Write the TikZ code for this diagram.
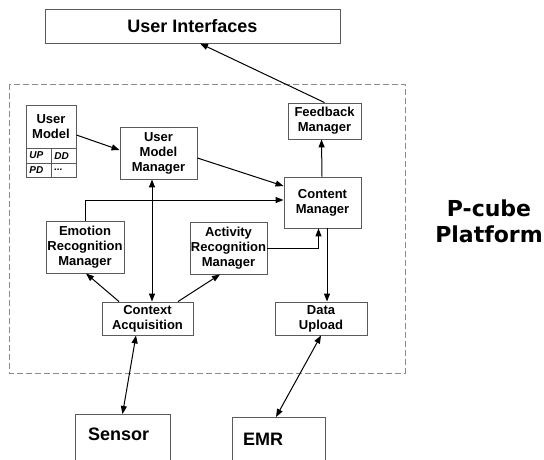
\documentclass[tikz,border=0pt]{standalone}
\usepackage{fontspec}
\setmainfont{Liberation Sans}
\newfontfamily\wide{DejaVu Sans}
\usetikzlibrary{arrows.meta}
\definecolor{boxgray}{HTML}{5A5A5A}
\definecolor{dashgray}{HTML}{8A8A8A}
\tikzset{
  box/.style={draw=boxgray, line width=0.9pt, align=center, inner sep=0pt,
    font=\fontsize{13}{15}\selectfont\bfseries},
  bigbox/.style={draw=boxgray, line width=0.9pt, inner ysep=0pt,
    font=\fontsize{18}{20}\selectfont\bfseries, align=left},
  cell/.style={draw=boxgray, line width=0.7pt, minimum width=25pt, minimum height=14.5pt,
    text width=19pt, inner xsep=3pt, inner ysep=0pt, align=left,
    font=\fontsize{10}{11}\selectfont\bfseries\itshape},
  arr/.style={-{Triangle[length=8pt,width=6pt]}, line width=1pt},
  darr/.style={{Triangle[length=8pt,width=6pt]}-{Triangle[length=8pt,width=6pt]}, line width=1pt},
  plain/.style={line width=1pt}
}
\begin{document}
\begin{tikzpicture}[x=1pt,y=-1pt]
\useasboundingbox (0,0) rectangle (544,459);
\clip (0,0) rectangle (544,459);
% platform frame
\draw[dashgray, line width=0.9pt, dash pattern=on 6pt off 3pt] (9,84) rectangle (405,373);
\node[font=\fontsize{22}{26}\selectfont\wide\bfseries, align=center] (pl) at (489,221) {P-cube\\Platform};
% nodes
\node[box, minimum width=295pt, minimum height=34pt, font=\fontsize{18}{20}\selectfont\bfseries] (ui) at (192.5,26) {User Interfaces};
\node[box, minimum width=73pt, minimum height=36pt] (fb) at (324.5,121) {Feedback\\Manager};
\node[box, minimum width=50pt, minimum height=43pt] (um) at (51,126.5) {User\\Model};
\node[cell, anchor=north west] (up) at (26,148) {UP};
\node[cell, anchor=north west] (dd) at (51,148) {DD};
\node[cell, anchor=north west] (pd) at (26,162.5) {PD};
\node[cell, anchor=north west] (dots) at (51,162.5) {...};
\node[box, minimum width=77pt, minimum height=52pt] (umm) at (158.5,153) {User\\Model\\Manager};
\node[box, minimum width=77pt, minimum height=51pt] (cm) at (322.5,202.5) {Content\\Manager};
\node[box, minimum width=78pt, minimum height=52pt] (erm) at (85,247) {Emotion\\Recognition\\Manager};
\node[box, minimum width=77pt, minimum height=52pt] (arm) at (228.5,248) {Activity\\Recognition\\Manager};
\node[box, minimum width=91pt, minimum height=33pt] (ca) at (147.5,318.5) {Context\\Acquisition};
\node[box, minimum width=92pt, minimum height=33pt] (du) at (321,318.5) {Data\\Upload};
\node[bigbox, anchor=north, text width=69pt, inner xsep=13pt, text height=26pt, text depth=30pt] (sensor) at (122.5,414) {Sensor};
\node[bigbox, anchor=north, text width=71pt, inner xsep=11pt, text height=28pt, text depth=30pt] (emr) at (278.5,417) {EMR};
% connectors
\draw[arr] (fb.north) -- ([xshift=7.5pt]ui.south);
\draw[arr] ([yshift=-8.5pt]um.east) -- ([yshift=3pt]umm.west);
\draw[arr] ([yshift=-5pt]umm.east) -- ([yshift=16.5pt]cm.west);
\draw[arr] (erm.north) |- ([yshift=2.5pt]cm.west);
\draw[darr] ([xshift=-6.5pt]umm.south) -- ([xshift=4.5pt]ca.north);
\draw[arr] ([xshift=-28.5pt]ca.north) -- ([xshift=1pt]erm.south);
\draw[arr] ([xshift=30.5pt]ca.north) -- ([xshift=-8.5pt]arm.south);
\draw[arr] (arm.east) -| ([xshift=-4pt]cm.south);
\draw[arr] ([xshift=4.5pt]cm.south) -- ([xshift=6pt]du.north);
\draw[arr] ([xshift=-0.5pt]cm.north) -- ([xshift=-3pt]fb.south);
\draw[darr] ([xshift=-11.5pt]ca.south) -- (sensor.north);
\draw[darr] (du.south) -- ([xshift=-2.5pt]emr.north);
\end{tikzpicture}
\end{document}
